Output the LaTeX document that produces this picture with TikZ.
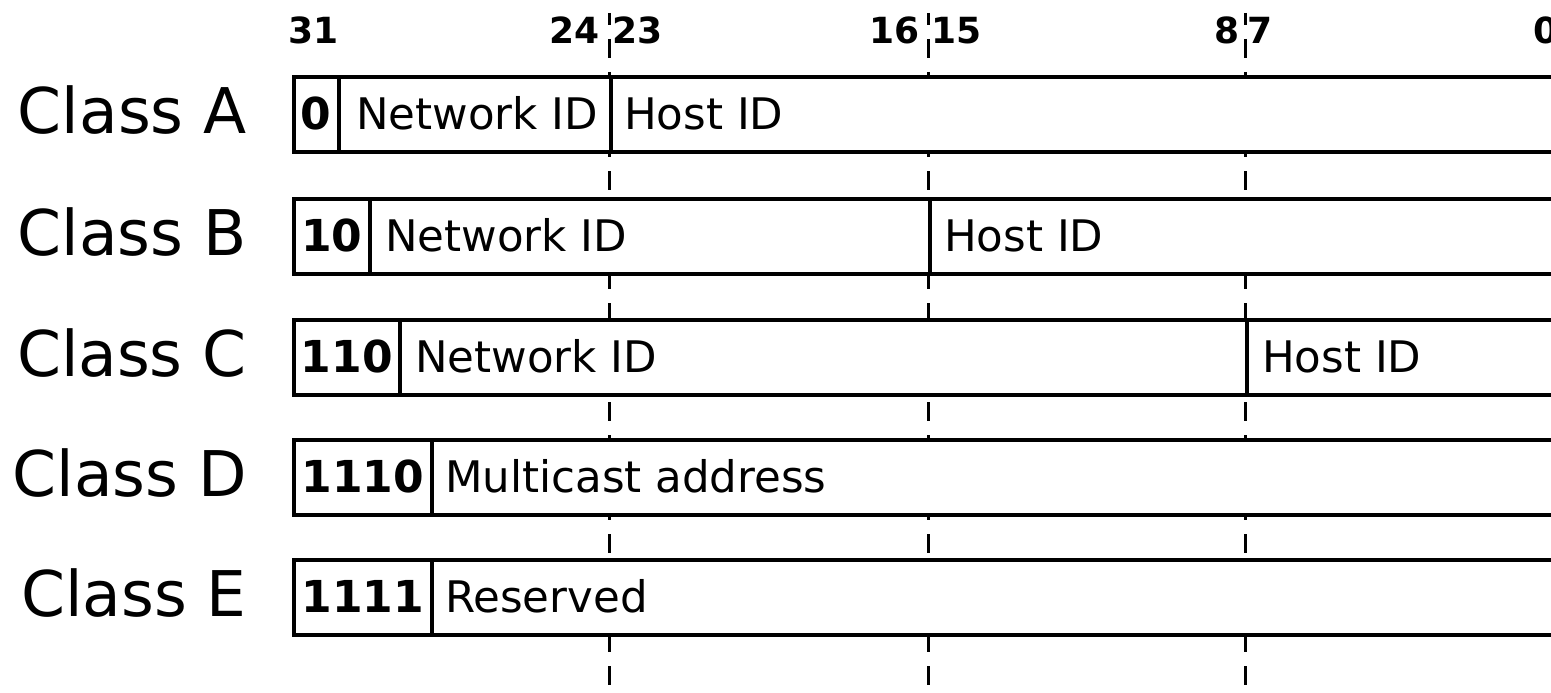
\documentclass[tikz,border=0pt]{standalone}
\usepackage{fontspec}
\setmainfont{DejaVu Sans}
\begin{document}
\begin{tikzpicture}[x=1pt,y=-1pt,
  field/.style={rectangle, draw=black, fill=white, line width=3.6pt, inner sep=0pt,
    minimum height=75pt, anchor=north west},
  fieldtext/.style={inner sep=0pt, anchor=base west, font=\fontsize{43.5}{48}\selectfont},
  prefixtext/.style={inner sep=0pt, anchor=base, font=\fontsize{44}{48}\selectfont\bfseries},
  bitnum/.style={inner sep=0pt, font=\fontsize{36}{40}\selectfont\bfseries},
  classname/.style={inner sep=0pt, anchor=base east, font=\fontsize{63}{70}\selectfont},
  octetsep/.style={line width=3pt, dash pattern=on 19pt off 14pt, dash phase=7pt}]
\clip (0,0) rectangle (1551,693);
\fill[white] (0,0) rectangle (1551,693);

% bit positions along the top
\node[bitnum, anchor=base west] (b31) at (288,44) {31};
\node[bitnum, anchor=base east] (b24) at (600,44) {24};
\node[bitnum, anchor=base west] (b23) at (612,44) {23};
\node[bitnum, anchor=base east] (b16) at (920,44) {16};
\node[bitnum, anchor=base west] (b15) at (931,44) {15};
\node[bitnum, anchor=base east] (b8) at (1240,44) {8};
\node[bitnum, anchor=base west] (b7) at (1247,44) {7};
\node[bitnum, anchor=base west] (b0) at (1533,44) {0};

% octet boundaries
\coordinate (s1t) at (609,13);  \coordinate (s1b) at (609,700);
\coordinate (s2t) at (928,13);  \coordinate (s2b) at (928,700);
\coordinate (s3t) at (1245,13); \coordinate (s3b) at (1245,700);
\draw[octetsep] (s1t) -- (s1b);
\draw[octetsep] (s2t) -- (s2b);
\draw[octetsep] (s3t) -- (s3b);

% Class A
\node[field, minimum width=45pt] (a1) at (292,75) {};
\node[field, minimum width=272pt] (a2) at (337,75) {};
\node[field, minimum width=961pt] (a3) at (609,75) {};
\node[prefixtext] (a1t) at ([yshift=-15pt]a1.center) {0};
\node[fieldtext] (a2t) at ([xshift=19pt,yshift=-15pt]a2.west) {Network ID};
\node[fieldtext] (a3t) at ([xshift=15pt,yshift=-15pt]a3.west) {Host ID};
\node[classname] (ca) at (247,133) {Class A};

% Class B
\node[field, minimum width=76pt] (bb1) at (292,197) {};
\node[field, minimum width=560pt] (bb2) at (368,197) {};
\node[field, minimum width=642pt] (bb3) at (928,197) {};
\node[prefixtext] (bb1t) at ([yshift=-15pt]bb1.center) {10};
\node[fieldtext] (bb2t) at ([xshift=17pt,yshift=-15pt]bb2.west) {Network ID};
\node[fieldtext] (bb3t) at ([xshift=16pt,yshift=-15pt]bb3.west) {Host ID};
\node[classname] (cb) at (247,255) {Class B};

% Class C
\node[field, minimum width=106pt] (c1) at (292,318) {};
\node[field, minimum width=847pt] (c2) at (398,318) {};
\node[field, minimum width=325pt] (c3) at (1245,318) {};
\node[prefixtext] (c1t) at ([yshift=-15pt]c1.center) {110};
\node[fieldtext] (c2t) at ([xshift=17pt,yshift=-15pt]c2.west) {Network ID};
\node[fieldtext] (c3t) at ([xshift=17pt,yshift=-15pt]c3.west) {Host ID};
\node[classname] (cc) at (247,376) {Class C};

% Class D
\node[field, minimum width=138pt] (d1) at (292,438) {};
\node[field, minimum width=1140pt] (d2) at (430,438) {};
\node[prefixtext] (d1t) at ([yshift=-15pt]d1.center) {1110};
\node[fieldtext] (d2t) at ([xshift=15pt,yshift=-15pt]d2.west) {Multicast address};
\node[classname] (cd) at (247,496) {Class D};

% Class E
\node[field, minimum width=138pt] (e1) at (292,558) {};
\node[field, minimum width=1140pt] (e2) at (430,558) {};
\node[prefixtext] (e1t) at ([yshift=-15pt]e1.center) {1111};
\node[fieldtext] (e2t) at ([xshift=15pt,yshift=-15pt]e2.west) {Reserved};
\node[classname] (ce) at (247,616) {Class E};
\end{tikzpicture}
\end{document}
